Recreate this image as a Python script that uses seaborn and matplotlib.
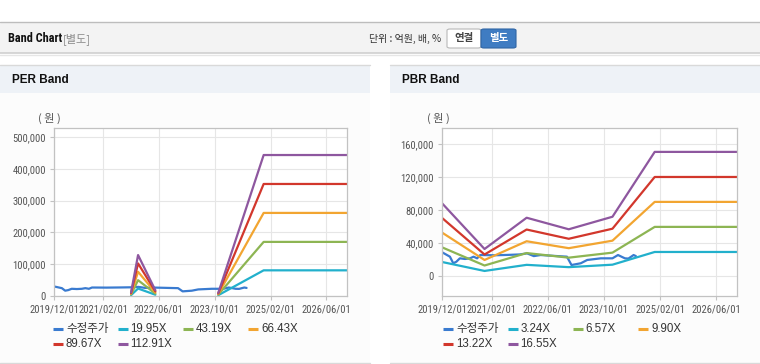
import matplotlib
matplotlib.use('Agg')
import matplotlib.pyplot as plt
from matplotlib import font_manager
from matplotlib.patches import Rectangle, FancyBboxPatch
from matplotlib.lines import Line2D
from matplotlib.ticker import FuncFormatter, FixedLocator
import numpy as np
import pandas as pd
import seaborn as sns

# ---------------- data ----------------
price_dates = ['2019-12-01', '2020-02-05', '2020-03-05', '2020-04-01', '2020-05-01', '2020-06-15',
               '2020-07-28', '2020-08-28', '2020-09-28', '2020-10-25', '2021-03-01', '2021-07-01',
               '2021-10-01', '2021-12-05', '2022-02-01', '2022-04-01', '2022-08-25', '2022-11-15',
               '2022-12-25', '2023-03-15', '2023-05-10', '2023-09-05', '2023-12-15', '2024-02-01',
               '2024-04-01', '2024-05-01', '2024-06-15', '2024-07-05']
price = [29000, 23800, 15800, 17700, 21800, 21000,
         21800, 23800, 21800, 25800, 25500, 26000,
         26500, 27800, 24500, 25800, 24500, 23800,
         13700, 15800, 19800, 21800, 21800, 25800,
         21800, 21500, 25800, 24500]

per_dates = ['2021-10-01', '2021-12-01', '2022-05-01', '2023-11-01', '2024-12-01', '2026-12-01']
per_segment = [1, 1, 1, 2, 2, 2]
per_names = ['19.95X', '43.19X', '66.43X', '89.67X', '112.91X']
per_1995 = [1800, 22600, 3000, 1600, 80000, 80000]
per_4319 = [3900, 49000, 6500, 3500, 169700, 169700]
per_6643 = [6000, 75400, 10000, 5300, 261100, 261100]
per_8967 = [8100, 101800, 13500, 7200, 352400, 352400]
per_11291 = [10200, 128200, 17000, 9000, 443700, 443700]

pbr_dates = ['2019-12-01', '2020-12-01', '2021-12-01', '2022-12-01', '2023-12-15', '2024-12-15', '2026-12-01']
pbr_names = ['3.24X', '6.57X', '9.90X', '13.22X', '16.55X']
pbr_324 = [17300, 6500, 13900, 11100, 14100, 29500, 29500]
pbr_657 = [35000, 13100, 28200, 22600, 28700, 59900, 59900]
pbr_990 = [52800, 19800, 42500, 34100, 43200, 90200, 90200]
pbr_1322 = [70500, 26400, 56700, 45500, 57700, 120400, 120400]
pbr_1655 = [88200, 33100, 71000, 57000, 72200, 150800, 150800]

x_ticks = ['2019-12-01', '2021-02-01', '2022-06-01', '2023-10-01', '2025-02-01', '2026-06-01']
per_yticks = [0, 100000, 200000, 300000, 400000, 500000]
pbr_yticks = [0, 40000, 80000, 120000, 160000]

price_name = '수정주가'
band_colors = ['#22b0cc', '#8db553', '#f2a531', '#d2372c', '#8e579f']
price_color = '#3a7bd0'

# ---------------- style ----------------
sns.set_theme(style='white')
names = {f.name for f in font_manager.fontManager.ttflist}
narrow = next((n for n in ['Liberation Sans Narrow', 'Roboto Condensed', 'Liberation Sans', 'Arial']
               if n in names), 'DejaVu Sans')
regular = next((n for n in ['Liberation Sans', 'Arial', 'Roboto'] if n in names), 'DejaVu Sans')
KR = 'Noto Sans CJK KR'
plt.rcParams['font.family'] = [narrow, KR, 'DejaVu Sans']

W, H = 760, 364
fig = plt.figure(figsize=(7.6, 3.64), dpi=100)
fig.patch.set_facecolor('white')


def fx(x):
    return x / W


def fy(y):
    return 1 - y / H


def rect(x0, y0, x1, y1, fc, ec='none', lw=0, z=-5):
    fig.patches.append(Rectangle((fx(x0), fy(y1)), fx(x1) - fx(x0), fy(y0) - fy(y1),
                                 transform=fig.transFigure, fc=fc, ec=ec, lw=lw, zorder=z))


def hline(x0, x1, y, color, lw=1, z=-4):
    fig.add_artist(Line2D([fx(x0), fx(x1)], [fy(y), fy(y)], transform=fig.transFigure,
                          color=color, lw=lw, zorder=z))


# header bar
rect(0, 22, 760, 53, '#f3f3f3')
hline(0, 760, 22, '#bdbdbd', 1)
hline(0, 760, 53, '#cfcfcf', 1.2)
hline(0, 760, 54.5, '#e6e6e6', 1)
fig.text(fx(8), fy(39), 'Band Chart', fontsize=8.8, fontweight='bold', color='#111',
         va='center', ha='left', family=[narrow, KR])
fig.text(fx(63), fy(39), '[별도]', fontsize=8, color='#8a8a8a', va='center', ha='left',
         family=[KR, 'DejaVu Sans'])
fig.text(fx(441), fy(39), '단위 : 억원, 배, %', fontsize=7.2, color='#333', va='center', ha='right',
         family=[KR, 'DejaVu Sans'])
b1 = FancyBboxPatch((fx(447), fy(48)), fx(481) - fx(447), fy(29) - fy(48),
                    boxstyle='round,pad=0,rounding_size=0.004', transform=fig.transFigure,
                    fc='white', ec='#b8b8b8', lw=0.8, zorder=2)
fig.patches.append(b1)
b2 = FancyBboxPatch((fx(481), fy(48)), fx(516) - fx(481), fy(29) - fy(48),
                    boxstyle='round,pad=0,rounding_size=0.004', transform=fig.transFigure,
                    fc='#3f7cc2', ec='#2f65a5', lw=0.8, zorder=2)
fig.patches.append(b2)
fig.text(fx(464), fy(38.5), '연결', fontsize=7.5, color='#444', fontweight='bold',
         va='center', ha='center', family=[KR], zorder=3)
fig.text(fx(498.5), fy(38.5), '별도', fontsize=7.5, color='white', fontweight='bold',
         va='center', ha='center', family=[KR], zorder=3)

# panels
for (px0, px1, title) in [(0, 370, 'PER Band'), (390, 760, 'PBR Band')]:
    rect(px0, 65, px1, 363, '#fcfcfc')
    rect(px0, 65, px1, 93, '#eef2f7')
    hline(px0, px1, 64.5, '#d9d9d9', 1)
    hline(px0, px1, 363, '#d9d9d9', 1)
    fig.text(fx(px0 + 11.5), fy(80), title, fontsize=8.5, fontweight='bold', color='#111',
             va='center', ha='left', family=[regular, KR])


def make_long(dates, segs, names_, arrays):
    rows = []
    for nm, arr in zip(names_, arrays):
        for d, s, v in zip(dates, segs, arr):
            rows.append({'date': pd.Timestamp(d), 'seg': s, 'series': nm, 'value': v})
    return pd.DataFrame(rows)


price_df = pd.DataFrame({'date': pd.to_datetime(price_dates), 'value': price})
per_df = make_long(per_dates, per_segment, per_names,
                   [per_1995, per_4319, per_6643, per_8967, per_11291])
pbr_df = make_long(pbr_dates, [1] * len(pbr_dates), pbr_names,
                   [pbr_324, pbr_657, pbr_990, pbr_1322, pbr_1655])

axes_px = [(54.3, 347.3), (442.3, 737.3)]
top, bot = 128.3, 295.7
xlim = (pd.Timestamp('2019-12-01'), pd.Timestamp('2026-12-01'))

configs = [
    (per_df, per_names, (0, 528000), per_yticks),
    (pbr_df, pbr_names, (-23500, 179400), pbr_yticks),
]

for (df, nms, ylim, yt), (x0, x1) in zip(configs, axes_px):
    ax = fig.add_axes([fx(x0), fy(bot), fx(x1) - fx(x0), fy(top) - fy(bot)])
    ax.set_zorder(5)
    ax.set_facecolor('white')
    sns.lineplot(data=price_df, x='date', y='value', color=price_color, lw=1.6, ax=ax,
                 estimator=None, legend=False)
    sns.lineplot(data=df, x='date', y='value', hue='series', units='seg', estimator=None,
                 hue_order=nms, palette=dict(zip(nms, band_colors)), lw=1.6, ax=ax,
                 legend=False, sort=False)
    ax.set_xlim(*xlim)
    ax.set_ylim(*ylim)
    ax.xaxis.set_major_locator(FixedLocator([matplotlib.dates.date2num(pd.Timestamp(t)) for t in x_ticks]))
    ax.set_xticklabels([pd.Timestamp(t).strftime('%Y/%m/%d') for t in x_ticks])
    ax.set_yticks(yt)
    ax.yaxis.set_major_formatter(FuncFormatter(lambda v, p: f'{int(v):,}'))
    ax.set_xlabel('')
    ax.set_ylabel('')
    ax.grid(True, color='#e6e6e6', lw=0.8)
    ax.set_axisbelow(True)
    for sp in ax.spines.values():
        sp.set_color('#c2c2c2')
        sp.set_linewidth(0.9)
    ax.tick_params(axis='both', which='major', length=3, width=0.8, color='#c2c2c2',
                   labelsize=7.7, labelcolor='#555', pad=3, bottom=True, left=True)
    for lab in ax.get_xticklabels() + ax.get_yticklabels():
        lab.set_family([narrow, KR])

# unit labels
for cx in [49, 438]:
    fig.text(fx(cx), fy(118), '( 원 )', fontsize=8, color='#555', va='center', ha='center',
             family=[KR, 'DejaVu Sans'])

# legends
leg_offsets = [0, 64.5, 129.5, 195]
for base, nms in [(53, per_names), (443, pbr_names)]:
    labels = [price_name] + nms
    colors = [price_color] + band_colors
    for i, (lab, col) in enumerate(zip(labels, colors)):
        r, c = divmod(i, 4)
        y = 329 + r * 15
        xh = base + leg_offsets[c]
        fig.add_artist(Line2D([fx(xh), fx(xh + 10)], [fy(y), fy(y)], transform=fig.transFigure,
                              color=col, lw=2.2, solid_capstyle='butt'))
        fig.text(fx(xh + 13), fy(y), lab, fontsize=8.3, color='#333', va='center', ha='left',
                 family=[regular, KR])

fig.savefig('out.png', dpi=100, facecolor='white')
